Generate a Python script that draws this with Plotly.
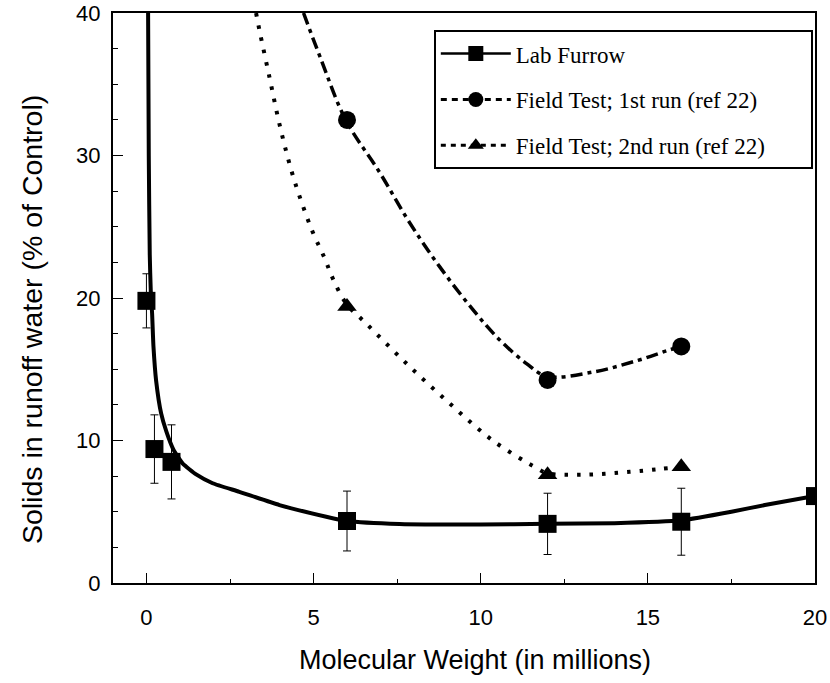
import plotly.graph_objects as go

# Lab Furrow measured data
lab_x = [0, 0.24, 0.75, 6, 12, 16, 20]
lab_y = [19.8, 9.4, 8.5, 4.35, 4.15, 4.3, 6.1]
lab_err = [1.9, 2.4, 2.6, 2.1, 2.15, 2.35, 0]

# Lab Furrow fitted curve
labfit_x = [0.05, 0.07, 0.10, 0.13, 0.17, 0.21, 0.29, 0.44, 0.60, 0.80, 1.08, 1.5, 1.98,
            2.78, 3.98, 5.38, 6.0, 7.57, 10, 12, 14, 16, 17.5, 18.5, 20]
labfit_y = [40, 30, 23, 20.5, 18.9, 16.6, 14.2, 11.9, 10.6, 9.4, 8.4, 7.6, 7.0,
            6.4, 5.47, 4.65, 4.35, 4.14, 4.1, 4.15, 4.2, 4.4, 5.0, 5.47, 6.1]

# Field test 1st run
f1_x = [6, 12, 16]
f1_y = [32.5, 14.25, 16.6]
f1fit_x = [4.7, 5.23, 5.96, 6.98, 7.87, 8.77, 9.76, 10.57, 11.37, 11.98, 13.35, 14.67, 15.57, 15.99]
f1fit_y = [40, 36.7, 32.5, 28.8, 25.3, 22.2, 19.2, 17.05, 15.4, 14.5, 14.8, 15.6, 16.3, 16.6]

# Field test 2nd run
f2_x = [6, 12, 16]
f2_y = [19.4, 7.6, 8.15]
f2fit_x = [3.28, 3.38, 3.68, 3.98, 4.33, 4.63, 4.97, 5.33, 5.57, 5.98, 6.58, 7.78, 9.07,
           10.36, 11.67, 12.0, 13.05, 14.46, 15.36, 15.98]
f2fit_y = [40, 38.8, 35.5, 32.2, 29.0, 26.8, 24.65, 22.8, 21.4, 19.6, 18.2, 15.4, 12.6,
           10.0, 8.07, 7.7, 7.6, 7.8, 8.0, 8.15]

x_ticks = [0, 5, 10, 15, 20]
y_ticks = [0, 10, 20, 30, 40]

legend_names = ["Lab Furrow", "Field Test; 1st run (ref 22)", "Field Test; 2nd run (ref 22)"]
x_title = "Molecular Weight (in millions)"
y_title = "Solids in runoff water (% of Control)"

dash1 = "12px,5px,4px,5px"
dash2 = "3.5px,9px"
pad = "\u00a0" * 7

fig = go.Figure()

fig.add_trace(go.Scatter(x=labfit_x, y=labfit_y, mode="lines", line_shape="spline",
                         line=dict(color="black", width=4, smoothing=0.5), showlegend=False,
                         hoverinfo="skip"))
fig.add_trace(go.Scatter(x=f1fit_x, y=f1fit_y, mode="lines", line_shape="spline",
                         line=dict(color="black", width=3.5, dash=dash1), showlegend=False,
                         hoverinfo="skip"))
fig.add_trace(go.Scatter(x=f2fit_x, y=f2fit_y, mode="lines", line_shape="spline",
                         line=dict(color="black", width=4, dash=dash2), showlegend=False,
                         hoverinfo="skip"))

fig.add_trace(go.Scatter(x=lab_x, y=lab_y, mode="markers",
                         marker=dict(symbol="square", size=18, color="black"),
                         error_y=dict(type="data", array=lab_err, color="black",
                                      thickness=1, width=4),
                         showlegend=False))
fig.add_trace(go.Scatter(x=f1_x, y=f1_y, mode="markers",
                         marker=dict(symbol="circle", size=18, color="black"),
                         showlegend=False))
fig.add_trace(go.Scatter(x=f2_x, y=f2_y, mode="markers",
                         marker=dict(symbol="triangle-up", size=17, color="black"),
                         showlegend=False))

# legend entries
fig.add_trace(go.Scatter(x=[None], y=[None], mode="lines+markers", name=legend_names[0],
                         line=dict(color="black", width=2.5),
                         marker=dict(symbol="square", size=15, color="black"),
                         legendgroup="a"))
fig.add_trace(go.Scatter(x=[None], y=[None], mode="lines+markers", name=legend_names[1],
                         line=dict(color="black", width=3, dash="6px,5px"),
                         marker=dict(symbol="circle", size=15, color="black"),
                         legendgroup="b"))
fig.add_trace(go.Scatter(x=[None], y=[None], mode="lines+markers", name=legend_names[2] + pad,
                         line=dict(color="black", width=3, dash="5px,5px"),
                         marker=dict(symbol="triangle-up", size=14, color="black"),
                         legendgroup="c"))

fig.update_layout(
    width=830, height=683,
    margin=dict(l=113, r=15, t=13, b=100, autoexpand=False),
    paper_bgcolor="white", plot_bgcolor="white",
    font=dict(family="Liberation Sans, Arial, sans-serif", color="black", size=22),
    legend=dict(x=0.457, y=0.970, xanchor="left", yanchor="top",
                bgcolor="white", bordercolor="black", borderwidth=2,
                font=dict(family="Liberation Serif, Times New Roman, serif", size=23),
                tracegroupgap=13, traceorder="grouped", itemwidth=70),
    xaxis=dict(range=[-1, 20], tickvals=x_ticks, ticktext=[str(v) for v in x_ticks],
               automargin=False,
               showgrid=False, zeroline=False, showline=True, linecolor="black",
               linewidth=2, mirror=True, ticks="inside", ticklen=10, tickwidth=1,
               tickcolor="black", ticklabelstandoff=14,
               minor=dict(dtick=2.5, tick0=0, ticks="inside", ticklen=4,
                          tickcolor="black", tickwidth=1, showgrid=False)),
    yaxis=dict(range=[0, 40], tickvals=y_ticks, ticktext=[str(v) for v in y_ticks],
               automargin=False,
               showgrid=False, zeroline=False, showline=True, linecolor="black",
               linewidth=2, mirror=True, ticks="inside", ticklen=10, tickwidth=1,
               tickcolor="black", ticklabelstandoff=6,
               minor=dict(dtick=2.5, tick0=0, ticks="inside", ticklen=5,
                          tickcolor="black", tickwidth=1, showgrid=False)),
    annotations=[
        dict(text=x_title, xref="paper", yref="paper", x=0.515, y=-0.135,
             xanchor="center", yanchor="middle", showarrow=False, font=dict(size=27)),
        dict(text=y_title, xref="paper", yref="paper", x=-0.1154, y=0.463,
             xanchor="center", yanchor="middle", textangle=-90, showarrow=False,
             font=dict(size=28.5)),
    ],
)

fig.write_html("out.html", config={"displayModeBar": False},
               post_script="document.body.style.margin='0';")
